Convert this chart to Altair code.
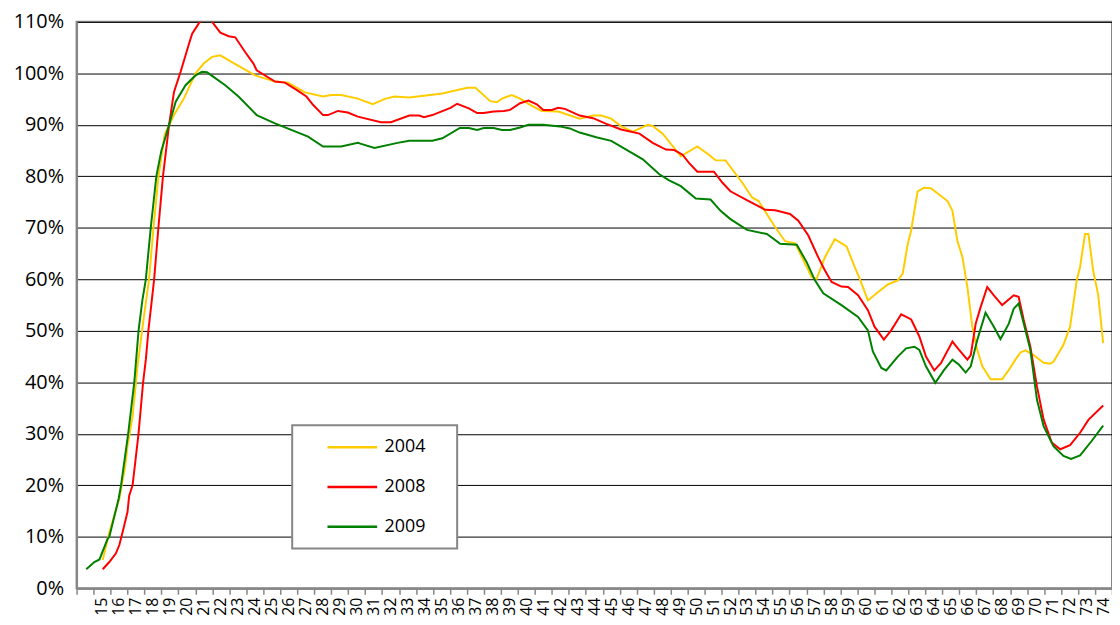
import altair as alt
import pandas as pd

# ---- data (age in years, value in %) ----
series_names = ["2004", "2008", "2009"]
series_colors = ["#FFCC00", "#FF0000", "#008000"]

y2004_age = [15.54, 15.93, 16.52, 16.87, 17.00, 17.30, 17.59, 17.94, 18.27, 18.53,
             18.82, 19.19, 19.74, 20.32, 21.01, 21.49, 21.98, 22.47, 23.15, 24.52,
             25.69, 26.47, 27.45, 28.52, 29.01, 29.59, 30.57, 31.45, 32.13, 32.72,
             33.60, 35.55, 37.01, 37.50, 38.37, 38.77, 39.06, 39.64, 40.13, 40.72,
             41.40, 42.38, 43.64, 44.43, 44.91, 45.50, 46.08, 46.77, 47.65, 47.94,
             48.53, 49.60, 50.57, 51.25, 51.65, 52.23, 53.21, 53.80, 54.18, 55.16,
             55.74, 56.33, 57.31, 57.60, 58.09, 58.67, 59.36, 59.84, 60.14, 60.62,
             61.21, 61.79, 62.38, 62.67, 62.97, 63.16, 63.55, 63.94, 64.33, 65.31,
             65.60, 65.89, 66.19, 66.48, 66.77, 67.06, 67.36, 67.85, 68.53, 68.92,
             69.31, 69.61, 69.90, 70.38, 70.97, 71.36, 71.55, 72.14, 72.53, 72.92,
             73.12, 73.41, 73.61, 73.89, 74.19, 74.48]
y2004_val = [5.5, 10.9, 17.4, 23.8, 27.6, 33.4, 43.1, 52.1, 60.0, 70.0,
             79.8, 88.1, 91.9, 95.1, 100.0, 101.9, 103.2, 103.5, 102.2, 99.6,
             98.4, 98.2, 96.3, 95.5, 95.8, 95.8, 95.1, 94.0, 95.0, 95.5,
             95.3, 96.1, 97.2, 97.2, 94.6, 94.4, 95.1, 95.8, 95.1, 93.9,
             92.7, 92.6, 91.2, 91.8, 91.8, 91.2, 89.7, 88.7, 90.0, 89.8,
             88.3, 83.9, 85.8, 84.2, 83.1, 83.1, 78.8, 75.9, 75.2, 70.1,
             67.4, 67.0, 60.4, 60.1, 64.3, 67.8, 66.4, 62.4, 60.1, 55.9,
             57.5, 59.0, 59.8, 61.1, 66.9, 69.4, 77.1, 77.8, 77.7, 75.2,
             73.3, 67.5, 64.3, 58.5, 50.8, 46.3, 43.1, 40.6, 40.6, 42.4,
             44.4, 45.8, 46.2, 45.3, 43.8, 43.6, 44.0, 47.3, 50.8, 59.8,
             62.4, 68.8, 68.8, 61.7, 56.9, 47.6]

y2008_age = [15.54, 15.93, 16.32, 16.52, 16.71, 17.00, 17.10, 17.30, 17.65, 17.92,
             18.08, 18.23, 18.57, 18.82, 19.09, 19.45, 19.74, 20.13, 20.62, 20.81,
             21.20, 21.49, 21.89, 22.47, 22.96, 23.35, 23.94, 24.42, 24.61, 25.69,
             26.28, 26.96, 27.54, 27.93, 28.52, 28.81, 29.40, 29.98, 30.57, 31.93,
             32.52, 33.60, 34.18, 34.47, 34.96, 36.03, 36.42, 37.11, 37.60, 37.99,
             38.57, 39.16, 39.54, 40.13, 40.62, 41.11, 41.50, 41.99, 42.38, 42.77,
             43.64, 44.43, 45.21, 46.08, 47.16, 47.94, 48.72, 49.21, 49.70, 50.08,
             50.57, 51.55, 52.04, 52.52, 53.60, 54.57, 55.16, 56.03, 56.52, 57.11,
             57.69, 58.09, 58.48, 59.06, 59.45, 60.04, 60.62, 61.01, 61.56, 61.99,
             62.58, 63.17, 63.65, 64.04, 64.53, 64.92, 65.60, 65.99, 66.48, 66.68,
             66.97, 67.26, 67.65, 68.04, 68.53, 69.21, 69.50, 69.80, 70.19, 70.58,
             70.97, 71.45, 71.95, 72.53, 73.12, 73.61, 74.48]
y2008_val = [3.7, 5.1, 6.8, 8.4, 10.9, 14.8, 18.0, 20.0, 30.0, 40.0,
             44.4, 50.0, 60.0, 70.0, 80.0, 90.0, 96.4, 100.3, 105.7, 107.7,
             109.7, 110.8, 110.4, 107.9, 107.2, 107.0, 104.1, 101.9, 100.6, 98.4,
             98.2, 96.8, 95.5, 93.9, 91.9, 91.9, 92.7, 92.4, 91.6, 90.5,
             90.5, 91.8, 91.8, 91.5, 91.9, 93.3, 94.1, 93.2, 92.3, 92.3,
             92.6, 92.7, 92.9, 94.2, 94.7, 94.0, 92.9, 92.9, 93.3, 93.1,
             91.8, 91.3, 90.2, 89.1, 88.3, 86.5, 85.2, 85.1, 84.2, 82.6,
             80.9, 80.9, 78.8, 77.1, 75.2, 73.5, 73.4, 72.7, 71.4, 68.5,
             64.3, 61.7, 59.5, 58.6, 58.5, 56.9, 54.0, 50.8, 48.3, 50.1,
             53.2, 52.2, 48.9, 45.0, 42.3, 43.7, 47.9, 46.3, 44.4, 45.3,
             51.4, 54.6, 58.5, 56.9, 55.0, 56.9, 56.6, 52.1, 46.9, 39.2,
             32.8, 28.3, 27.0, 27.8, 30.2, 32.7, 35.5]

y2009_age = [14.57, 15.05, 15.35, 15.83, 15.93, 16.48, 16.62, 17.04, 17.40, 17.65,
             17.88, 18.08, 18.37, 18.70, 18.99, 19.45, 19.84, 20.42, 21.01, 21.39,
             21.69, 22.76, 23.54, 24.61, 25.69, 27.64, 28.52, 29.59, 30.57, 30.76,
             31.55, 32.91, 33.60, 34.96, 35.55, 36.58, 37.11, 37.60, 37.99, 38.57,
             39.06, 39.54, 40.13, 40.62, 41.50, 42.47, 43.06, 43.64, 44.62, 45.50,
             46.38, 47.36, 48.33, 48.91, 49.60, 50.48, 51.35, 51.94, 52.52, 53.50,
             54.67, 55.45, 56.43, 57.02, 57.50, 57.99, 59.06, 60.04, 60.62, 60.91,
             61.41, 61.70, 62.38, 62.87, 63.36, 63.65, 64.04, 64.59, 65.11, 65.60,
             65.99, 66.38, 66.68, 67.06, 67.55, 68.04, 68.43, 68.92, 69.21, 69.50,
             69.80, 70.19, 70.58, 70.97, 71.55, 72.14, 72.59, 73.12, 73.80, 74.48]
y2009_val = [3.7, 5.1, 5.6, 9.6, 10.0, 17.4, 20.0, 30.0, 40.0, 50.0,
             56.0, 60.0, 70.0, 80.0, 84.9, 90.0, 94.5, 97.7, 99.6, 100.3,
             100.2, 97.7, 95.5, 91.9, 90.3, 87.7, 85.8, 85.8, 86.5, 86.3,
             85.5, 86.5, 86.9, 86.9, 87.4, 89.4, 89.4, 89.0, 89.4, 89.4,
             89.0, 89.0, 89.5, 90.0, 90.0, 89.7, 89.3, 88.5, 87.6, 86.9,
             85.2, 83.3, 80.4, 79.2, 78.1, 75.7, 75.5, 73.3, 71.7, 69.6,
             68.8, 66.9, 66.7, 63.3, 59.8, 57.3, 55.0, 52.7, 50.1, 46.0,
             42.8, 42.3, 45.0, 46.6, 46.9, 46.3, 43.1, 39.9, 42.4, 44.4,
             43.4, 41.9, 43.1, 48.2, 53.5, 50.8, 48.4, 51.4, 54.3, 55.3,
             51.4, 46.3, 36.6, 31.5, 27.6, 25.7, 25.1, 25.8, 28.6, 31.6]

x_tick_values = list(range(14, 76))
y_tick_values = [0, 10, 20, 30, 40, 50, 60, 70, 80, 90, 100, 110]

rows = []
for name, ages, vals in [("2004", y2004_age, y2004_val),
                         ("2008", y2008_age, y2008_val),
                         ("2009", y2009_age, y2009_val)]:
    for i, (a, v) in enumerate(zip(ages, vals)):
        rows.append({"series": name, "age": a, "value": v, "idx": i})
df = pd.DataFrame(rows)

FONT = "Open Sans"
GRAY = "#868686"

chart = alt.Chart(df).mark_line(strokeWidth=2, clip=True).encode(
    x=alt.X("age:Q",
            scale=alt.Scale(domain=[14, 75], nice=False, zero=False),
            axis=alt.Axis(values=x_tick_values,
                          labelExpr="datum.value >= 15 && datum.value <= 74 ? '' + datum.value : ''",
                          labelAngle=270, labelOffset=8.5, labelOverlap=False,
                          labelFlush=False, labelFontSize=16, labelPadding=3,
                          grid=False, title=None, tickSize=6, tickColor=GRAY,
                          tickWidth=1.5, domainColor=GRAY, domainWidth=2)),
    y=alt.Y("value:Q",
            scale=alt.Scale(domain=[0, 110], nice=False, zero=True),
            axis=alt.Axis(values=y_tick_values, labelExpr="datum.value + '%'",
                          grid=True, gridColor="#000000", gridWidth=1,
                          ticks=False, domainColor=GRAY, domainWidth=2,
                          labelFontSize=20, labelPadding=13, title=None)),
    color=alt.Color("series:N",
                    scale=alt.Scale(domain=series_names, range=series_colors),
                    legend=alt.Legend(title=" ", titleOrient="right",
                                      titlePadding=20, titleFontSize=2,
                                      orient="none",
                                      legendX=217, legendY=406)),
    order=alt.Order("idx:Q"),
).properties(
    width=1042, height=570,
    autosize=alt.AutoSizeParams(type="none"),
    padding={"left": 69, "top": 12, "right": 0, "bottom": 35},
    background="white",
).configure_view(
    stroke=GRAY, strokeWidth=2
).configure_axis(
    labelFont=FONT, labelColor="#000000"
).configure_legend(
    fillColor="white", strokeColor=GRAY, strokeWidth=2, padding=12,
    rowPadding=20, clipHeight=20, labelFont=FONT, labelFontSize=18,
    labelColor="#000000", symbolType="stroke", symbolSize=2500,
    symbolStrokeWidth=2.5, symbolOffset=22, labelOffset=6
)

chart.save("out.html", embed_options={"renderer": "svg", "actions": False})
